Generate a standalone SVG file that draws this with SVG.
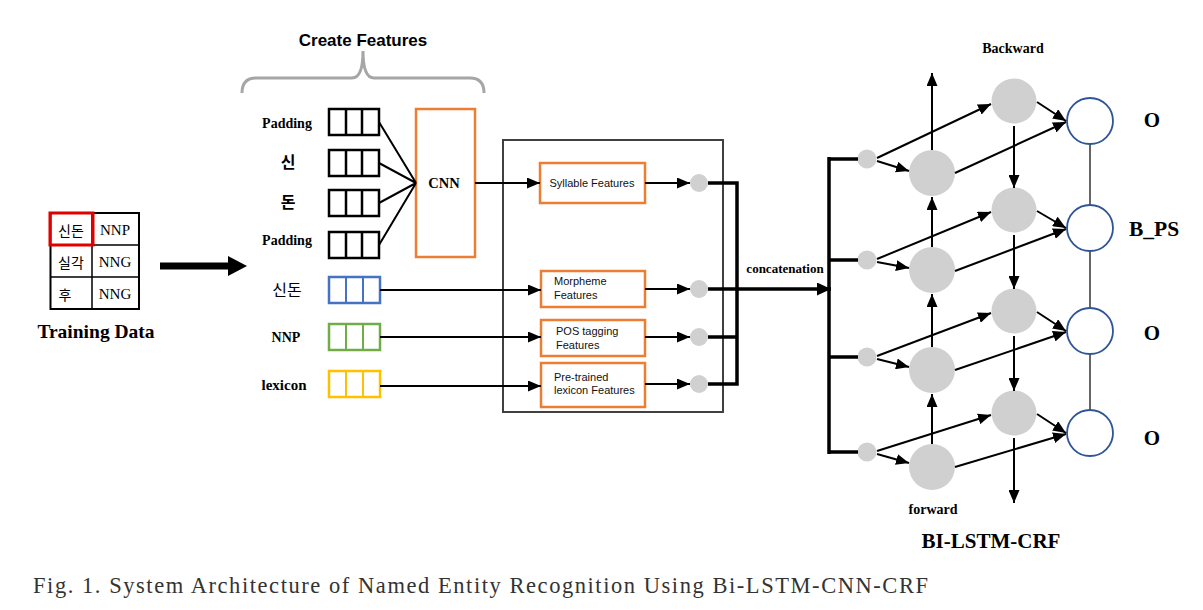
<svg xmlns="http://www.w3.org/2000/svg" width="1203" height="610" viewBox="0 0 1203 610">
<style>
.ser{font-family:"Liberation Serif","Times New Roman",serif;}
.b{font-weight:bold;}
.sans{font-family:"Liberation Sans",Arial,sans-serif;}
.kr{font-family:"Noto Sans CJK KR","Noto Sans",sans-serif;}
.emb{fill:#fff;stroke-width:2.5;}
.orange{fill:#fff;stroke:#ED7D31;stroke-width:2.5;}
.ln{stroke:#000;stroke-width:2;fill:none;}
.thick{stroke:#000;stroke-width:3.5;fill:none;}
.dot{fill:#D0D0D0;}
.big{fill:#D0D0D0;}
.out{fill:#fff;stroke:#2F5597;stroke-width:1.8;}
.ft{font-family:"Liberation Sans",Arial,sans-serif;font-size:11px;fill:#111;}
</style>
<defs>
<marker id="ah" markerUnits="userSpaceOnUse" markerWidth="13" markerHeight="11" refX="13" refY="5.5" orient="auto">
<path d="M0,0 L13,5.5 L0,11 z" fill="#000"/>
</marker>
<marker id="ahb" markerUnits="userSpaceOnUse" markerWidth="14" markerHeight="13" refX="14" refY="6.5" orient="auto">
<path d="M0,0 L14,6.5 L0,13 z" fill="#000"/>
</marker>
</defs>
<rect width="1203" height="610" fill="#fff"/>

<!-- Training data -->
<g id="training-data">
<rect x="50.5" y="213" width="88.5" height="96" fill="none" stroke="#000" stroke-width="2"/>
<path d="M92,213 V309 M50.5,245 H139 M50.5,277 H139" stroke="#000" stroke-width="1.5" fill="none"/>
<rect x="50" y="213" width="43" height="32" fill="none" stroke="#E00000" stroke-width="3"/>
<text class="kr" x="71" y="236" font-size="14" text-anchor="middle">신돈</text>
<text class="kr" x="71" y="268" font-size="14" text-anchor="middle">실각</text>
<text class="kr" x="65" y="300" font-size="14" text-anchor="middle">후</text>
<text class="ser" x="115" y="235" font-size="15" text-anchor="middle">NNP</text>
<text class="ser" x="115" y="267" font-size="15" text-anchor="middle">NNG</text>
<text class="ser" x="115" y="299" font-size="15" text-anchor="middle">NNG</text>
<text class="ser b" x="96" y="338" font-size="19.5" text-anchor="middle">Training Data</text>
</g>

<g id="big-arrow">
<line x1="160" y1="266" x2="231" y2="266" stroke="#000" stroke-width="7"/>
<polygon points="228,256 247,266 228,276" fill="#000"/>
</g>

<!-- Create Features -->
<g id="create-features">
<text class="sans b" x="363" y="46" font-size="17" text-anchor="middle">Create Features</text>
<path d="M242,93 Q242,78 256,78 L352,78 Q363,78 363,51 Q363,78 374,78 L470,78 Q484,78 484,93" fill="none" stroke="#A6A6A6" stroke-width="3"/>
</g>

<g id="labels-left">
<text class="ser b" x="287" y="128" font-size="14" text-anchor="middle">Padding</text>
<text class="kr b" x="288" y="168" font-size="16" text-anchor="middle">신</text>
<text class="kr b" x="288" y="208" font-size="16" text-anchor="middle">돈</text>
<text class="ser b" x="287" y="245" font-size="14" text-anchor="middle">Padding</text>
<text class="kr" x="287" y="296" font-size="16" text-anchor="middle">신돈</text>
<text class="ser b" x="286" y="342" font-size="14" text-anchor="middle">NNP</text>
<text class="ser b" x="284" y="390" font-size="15" text-anchor="middle">lexicon</text>
</g>

<g id="emb-padding1"><rect class="emb" x="329" y="109" width="50" height="26" stroke="#000"/><path d="M346,109 V135 M362,109 V135" stroke="#000" stroke-width="2.5"/></g>
<g id="emb-sin"><rect class="emb" x="329" y="150" width="50" height="26" stroke="#000"/><path d="M346,150 V176 M362,150 V176" stroke="#000" stroke-width="2.5"/></g>
<g id="emb-don"><rect class="emb" x="329" y="190" width="50" height="26" stroke="#000"/><path d="M346,190 V216 M362,190 V216" stroke="#000" stroke-width="2.5"/></g>
<g id="emb-padding2"><rect class="emb" x="329" y="232" width="50" height="26" stroke="#000"/><path d="M346,232 V258 M362,232 V258" stroke="#000" stroke-width="2.5"/></g>
<g id="emb-word"><rect class="emb" x="329" y="277" width="51" height="26" stroke="#4472C4" stroke-width="2"/><path d="M346,277 V303 M363,277 V303" stroke="#4472C4" stroke-width="2"/></g>
<g id="emb-pos"><rect class="emb" x="329" y="324" width="51" height="26" stroke="#70AD47" stroke-width="2"/><path d="M346,324 V350 M363,324 V350" stroke="#70AD47" stroke-width="2"/></g>
<g id="emb-lex"><rect class="emb" x="329" y="371" width="51" height="26" stroke="#FFC000" stroke-width="2"/><path d="M346,371 V397 M363,371 V397" stroke="#FFC000" stroke-width="2"/></g>

<g id="cnn">
<rect class="orange" x="416" y="109" width="59" height="148"/>
<text class="ser b" x="444" y="188" font-size="14.5" text-anchor="middle">CNN</text>
</g>

<g id="feature-frame">
<rect x="503" y="140" width="220" height="272" fill="none" stroke="#404040" stroke-width="2"/>
</g>

<g id="syllable-features">
<rect class="orange" x="540" y="163" width="105" height="40"/>
<text class="ft" x="592" y="187" text-anchor="middle">Syllable Features</text>
</g>
<g id="morpheme-features">
<rect class="orange" x="541" y="271" width="104" height="36"/>
<text class="ft" x="554" y="285">Morpheme</text>
<text class="ft" x="554" y="299">Features</text>
</g>
<g id="pos-features">
<rect class="orange" x="541" y="320" width="104" height="36"/>
<text class="ft" x="556" y="335">POS tagging</text>
<text class="ft" x="556" y="349">Features</text>
</g>
<g id="lexicon-features">
<rect class="orange" x="541" y="363" width="104" height="44"/>
<text class="ft" x="554" y="381">Pre-trained</text>
<text class="ft" x="554" y="394">lexicon Features</text>
</g>

<g id="feature-dots">
<circle class="dot" cx="699" cy="183" r="9"/>
<circle class="dot" cx="699" cy="289" r="9"/>
<circle class="dot" cx="699" cy="337" r="9"/>
<circle class="dot" cx="699" cy="384" r="9"/>
</g>

<g id="concat-label">
<text class="ser b" x="785" y="273" font-size="13" text-anchor="middle">concatenation</text>
</g>

<!-- LSTM nodes -->
<g id="input-dots">
<circle class="dot" cx="867" cy="159" r="9.5"/>
<circle class="dot" cx="867" cy="260" r="9.5"/>
<circle class="dot" cx="867" cy="357" r="9.5"/>
<circle class="dot" cx="867" cy="452" r="9.5"/>
</g>
<g id="forward-lstm">
<circle class="big" cx="932" cy="173" r="23"/>
<circle class="big" cx="932" cy="270" r="23"/>
<circle class="big" cx="932" cy="370" r="23"/>
<circle class="big" cx="932" cy="467" r="23"/>
</g>
<g id="backward-lstm">
<circle class="big" cx="1014" cy="101" r="22.5"/>
<circle class="big" cx="1014" cy="210" r="22.5"/>
<circle class="big" cx="1014" cy="311" r="22.5"/>
<circle class="big" cx="1014" cy="413" r="22.5"/>
</g>
<g id="crf-outputs">
<path d="M1090,144 V205 M1090,251 V308 M1090,354 V410" stroke="#000" stroke-width="1.2"/>
<circle class="out" cx="1090" cy="121" r="23"/>
<circle class="out" cx="1090" cy="228" r="23"/>
<circle class="out" cx="1090" cy="331" r="23"/>
<circle class="out" cx="1090" cy="433" r="23"/>
</g>
<g id="output-labels">
<text class="ser b" x="1152" y="127" font-size="21" text-anchor="middle">O</text>
<text class="ser b" x="1154" y="236" font-size="21.5" text-anchor="middle">B_PS</text>
<text class="ser b" x="1152" y="340" font-size="21" text-anchor="middle">O</text>
<text class="ser b" x="1152" y="445" font-size="21" text-anchor="middle">O</text>
</g>
<g id="lstm-labels">
<text class="ser b" x="1013" y="53" font-size="14" text-anchor="middle">Backward</text>
<text class="ser b" x="933" y="514" font-size="14" text-anchor="middle">forward</text>
<text class="ser b" x="991" y="548" font-size="21" text-anchor="middle">BI-LSTM-CRF</text>
</g>

<!-- Connectors -->
<g id="connectors">
<path class="ln" d="M379,122 L416,183 M379,163 L416,183 M379,203 L416,183 M379,245 L416,183" stroke-width="2.5"/>
<line class="ln" x1="475" y1="183" x2="540" y2="183" marker-end="url(#ah)"/>
<line class="ln" x1="380" y1="290" x2="541" y2="290" marker-end="url(#ah)"/>
<line class="ln" x1="380" y1="337" x2="541" y2="337" marker-end="url(#ah)"/>
<line class="ln" x1="380" y1="386" x2="541" y2="386" marker-end="url(#ah)"/>
<line class="ln" x1="645" y1="183" x2="690" y2="183" marker-end="url(#ah)"/>
<line class="ln" x1="645" y1="289" x2="690" y2="289" marker-end="url(#ah)"/>
<line class="ln" x1="645" y1="337" x2="690" y2="337" marker-end="url(#ah)"/>
<line class="ln" x1="645" y1="384" x2="690" y2="384" marker-end="url(#ah)"/>
<path class="thick" d="M708,183 H737 V384 H708 M708,337 H737"/>
<line class="thick" x1="708" y1="289" x2="831" y2="289" marker-end="url(#ahb)"/>
<path class="thick" d="M829,157 V454 M829,159 H858 M829,260 H858 M829,357 H858 M829,452 H858"/>

<!-- input dot to forward / backward -->
<line class="ln" x1="877" y1="161" x2="909" y2="171" marker-end="url(#ah)"/>
<line class="ln" x1="877" y1="262" x2="909" y2="268" marker-end="url(#ah)"/>
<line class="ln" x1="877" y1="359" x2="909" y2="367" marker-end="url(#ah)"/>
<line class="ln" x1="877" y1="454" x2="909" y2="463" marker-end="url(#ah)"/>
<line class="ln" x1="877" y1="158" x2="991" y2="104" marker-end="url(#ah)"/>
<line class="ln" x1="877" y1="259" x2="991" y2="212" marker-end="url(#ah)"/>
<line class="ln" x1="877" y1="356" x2="991" y2="313" marker-end="url(#ah)"/>
<line class="ln" x1="877" y1="451" x2="991" y2="415" marker-end="url(#ah)"/>

<!-- forward chain (upward) -->
<line class="ln" x1="932" y1="150" x2="932" y2="73" marker-end="url(#ah)"/>
<line class="ln" x1="932" y1="247" x2="932" y2="197" marker-end="url(#ah)"/>
<line class="ln" x1="932" y1="347" x2="932" y2="294" marker-end="url(#ah)"/>
<line class="ln" x1="932" y1="444" x2="932" y2="394" marker-end="url(#ah)"/>

<!-- backward chain (downward) -->
<line class="ln" x1="1014" y1="126" x2="1014" y2="188" marker-end="url(#ah)"/>
<line class="ln" x1="1014" y1="235" x2="1014" y2="289" marker-end="url(#ah)"/>
<line class="ln" x1="1014" y1="336" x2="1014" y2="391" marker-end="url(#ah)"/>
<line class="ln" x1="1014" y1="438" x2="1014" y2="503" marker-end="url(#ah)"/>

<!-- forward to output -->
<line class="ln" x1="955" y1="173" x2="1066" y2="122" marker-end="url(#ah)"/>
<line class="ln" x1="955" y1="271" x2="1066" y2="229" marker-end="url(#ah)"/>
<line class="ln" x1="955" y1="370" x2="1066" y2="332" marker-end="url(#ah)"/>
<line class="ln" x1="955" y1="467" x2="1066" y2="434" marker-end="url(#ah)"/>

<!-- backward to output -->
<line class="ln" x1="1037" y1="102" x2="1066" y2="121" marker-end="url(#ah)"/>
<line class="ln" x1="1037" y1="211" x2="1066" y2="228" marker-end="url(#ah)"/>
<line class="ln" x1="1037" y1="312" x2="1066" y2="331" marker-end="url(#ah)"/>
<line class="ln" x1="1037" y1="414" x2="1066" y2="433" marker-end="url(#ah)"/>
</g>

<g id="caption">
<text class="ser" x="33" y="593" font-size="22.5" fill="#333" textLength="895" lengthAdjust="spacing">Fig. 1. System Architecture of Named Entity Recognition Using Bi-LSTM-CNN-CRF</text>
</g>
</svg>
